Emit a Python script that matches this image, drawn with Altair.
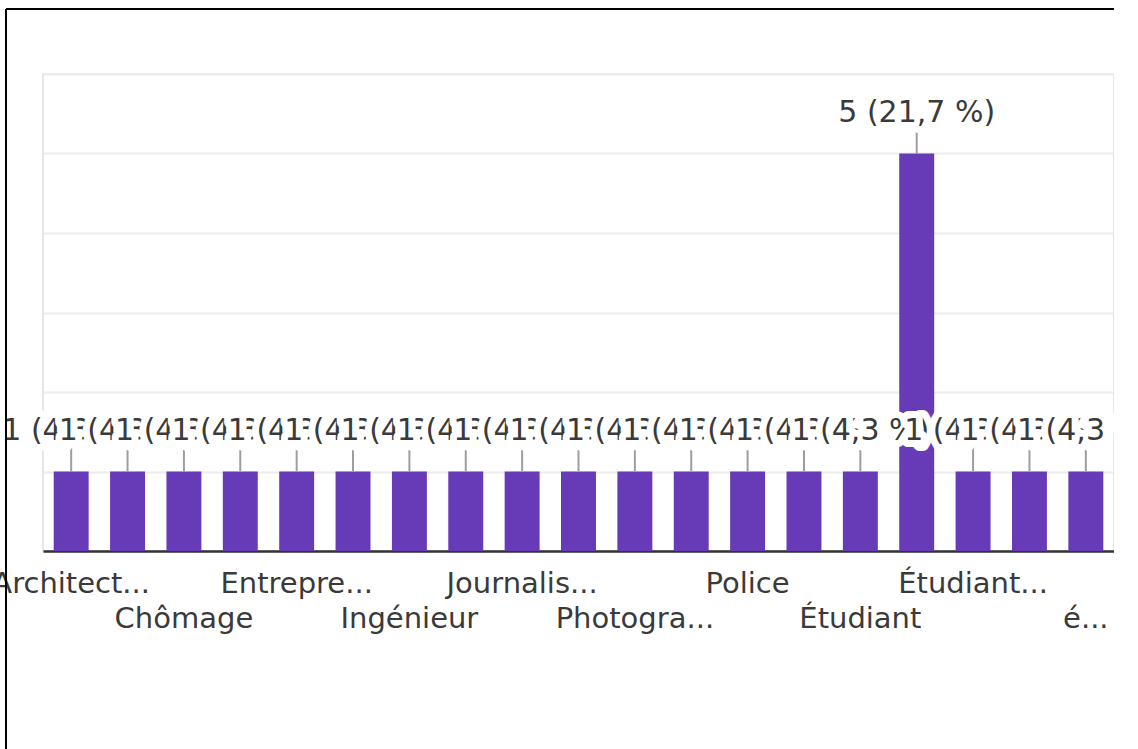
import json
import altair as alt
import pandas as pd

categories = ["Architect...", "Avocat", "Chômage", "Commerçant", "Entrepre...",
              "Fonctionnaire", "Ingénieur", "Interprète", "Journalis...", "Médecin",
              "Photogra...", "Pilote", "Police", "Professeur", "Étudiant",
              "Étudiante", "Étudiant...", "Étudiants", "é..."]
counts = [1, 1, 1, 1, 1, 1, 1, 1, 1, 1, 1, 1, 1, 1, 1, 5, 1, 1, 1]
row1_labels = ["Architect...", "Entrepre...", "Journalis...", "Police", "Étudiant..."]
row2_labels = ["Chômage", "Ingénieur", "Photogra...", "Étudiant", "é..."]

total = sum(counts)
labels = [f"{c} ({c / total * 100:.1f} %)".replace(".", ",") for c in counts]
df = pd.DataFrame({"category": categories, "count": counts, "label": labels})

FONT = "DejaVu Sans"
TEXT = "#3a3a3a"

label_expr = (
    f"indexof({json.dumps(row2_labels, ensure_ascii=False)}, datum.value) >= 0 ? ['', datum.value] : "
    f"(indexof({json.dumps(row1_labels, ensure_ascii=False)}, datum.value) >= 0 ? datum.value : '')"
)

x = alt.X("category:N", sort=categories,
          scale=alt.Scale(paddingInner=0.38, paddingOuter=0.19),
          axis=alt.Axis(title=None, labelExpr=label_expr, labelAngle=0, labelOverlap=False,
                        labelLimit=400, ticks=False, domainColor="#333333", domainWidth=2.5,
                        labelFont=FONT, labelFontSize=29, labelColor=TEXT, labelPadding=18,
                        labelLineHeight=35, labelFlush=False, grid=False))
y = alt.Y("count:Q", scale=alt.Scale(domain=[0, 6], nice=False),
          axis=alt.Axis(title=None, labels=False, ticks=False, domain=False,
                        values=[0, 1, 2, 3, 4, 5, 6], gridColor="#ececec", gridWidth=2))

base = alt.Chart(df)
bars = base.mark_bar(color="#673ab7").encode(x=x, y=y)
leaders = base.mark_rule(color="#9e9e9e", strokeWidth=2, y2Offset=-30).encode(
    x=x, y=y, y2=alt.Y2("count"))

layers = [bars, leaders]
for cat in categories:
    sub = base.transform_filter(alt.datum.category == cat)
    halo = sub.mark_text(dy=-41, font=FONT, fontSize=30, fill="white", stroke="white",
                         strokeWidth=14, strokeJoin="round").encode(x=x, y=y, text="label:N")
    txt = sub.mark_text(dy=-41, font=FONT, fontSize=30, color=TEXT).encode(
        x=x, y=y, text="label:N")
    layers += [halo, txt]

frame_data = alt.Data(values=[{"k": 1}])
frame_left = alt.Chart(frame_data).mark_rule(color="black", strokeWidth=2).encode(
    x=alt.value(-37), y=alt.value(-65), y2=alt.value(700))
frame_top = alt.Chart(frame_data).mark_rule(color="black", strokeWidth=2).encode(
    x=alt.value(-37), x2=alt.value(1100), y=alt.value(-65))
layers += [frame_left, frame_top]

chart = alt.layer(*layers).properties(
    width=1071, height=477,
    autosize=alt.AutoSizeParams(type="none"),
    padding={"left": 43, "top": 74, "right": 0, "bottom": 198},
    background="white",
).configure_view(stroke="#e6e6e6", strokeWidth=2)

chart.save("out.html", embed_options={"renderer": "svg", "actions": False})
